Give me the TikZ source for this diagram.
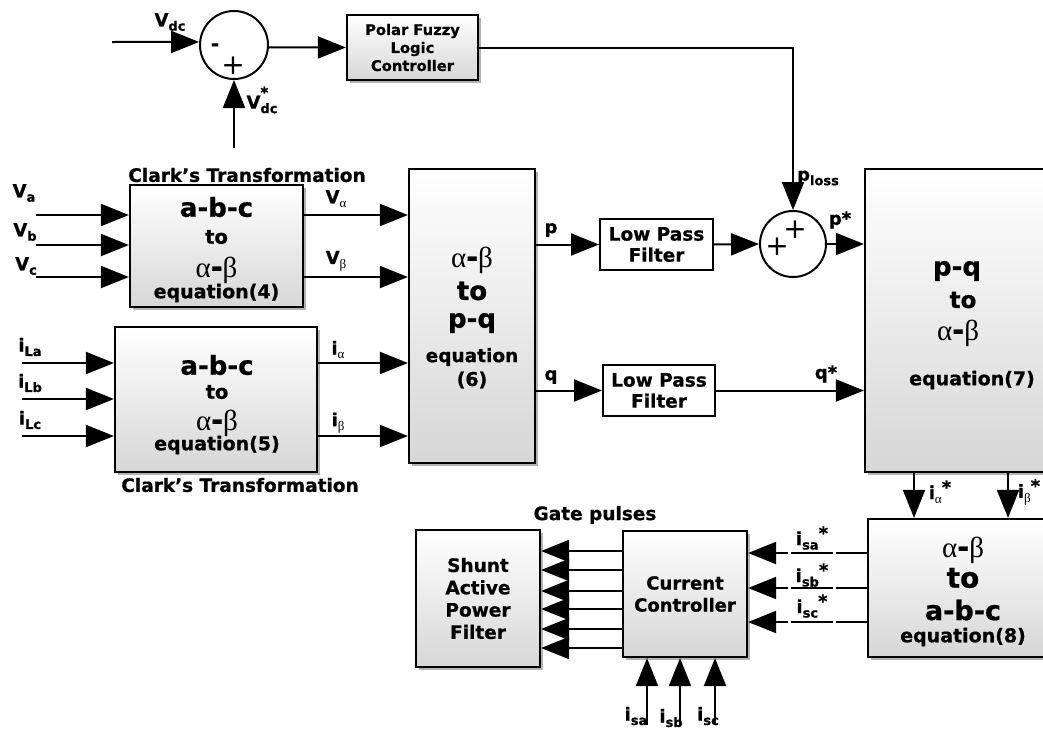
\documentclass[tikz,border=0pt]{standalone}
\usepackage{fontspec}
\setmainfont{DejaVu Sans}[BoldFeatures={FakeBold=0.8}]
\newfontfamily\grk{Liberation Serif}
\usetikzlibrary{arrows.meta,shadows,calc}
\newcommand\fs[1]{\fontsize{#1}{#1}\selectfont}
\newcommand\lsub[1]{\raisebox{-0.45ex}{\fs{13}#1}}
\newcommand\gab{{\grk\mdseries α}-{\grk\mdseries β}}
\newcommand\stx{\raisebox{0.55ex}{*}}
\begin{document}
\begin{tikzpicture}[x=1pt,y=-1pt,
 every node/.style={font=\bfseries, inner sep=0pt},
 arr/.style={line width=2pt,-{Triangle[length=28pt,width=22pt]}},
 gbox/.style={draw, line width=2.2pt, top color=white, bottom color=black!16,
   drop shadow={shadow xshift=2.5pt,shadow yshift=-2.5pt,fill=black!50,opacity=0.6}},
 wbox/.style={draw, line width=2pt, fill=white},
 sumc/.style={draw, circle, line width=2pt, fill=white},
 lab/.style={font=\bfseries\fs{18}},
 big/.style={font=\bfseries\fs{26}},
 mid/.style={font=\bfseries\fs{19}},
 grkt/.style={font=\bfseries\fs{29}},
 sign/.style={font=\normalfont\fs{28}},
]
\useasboundingbox (0,0) rectangle (1043,731);

% ---------- boxes ----------
\node[gbox, minimum width=131pt, minimum height=65pt, align=center,
  font=\bfseries\fontsize{14.7}{18}\selectfont] (pf) at (412.5,47.5) {Polar Fuzzy\\Logic\\Controller};
\node[gbox, minimum width=173pt, minimum height=122pt] (c1) at (216.5,246) {};
\node[gbox, minimum width=202pt, minimum height=145pt] (c2) at (216,399.5) {};
\node[gbox, minimum width=126pt, minimum height=294pt] (b6) at (472,316) {};
\node[gbox, minimum width=190pt, minimum height=303pt] (b7) at (960,320.5) {};
\node[gbox, minimum width=190pt, minimum height=138pt] (b8) at (963,588) {};
\node[gbox, minimum width=124pt, minimum height=137pt, align=center,
  font=\bfseries\fontsize{18.5}{22.3}\selectfont] (sh) at (478,598.5) {Shunt\\Active\\Power\\Filter};
\node[gbox, minimum width=124pt, minimum height=126pt, align=center,
  font=\bfseries\fontsize{18}{22}\selectfont] (cc) at (685,594) {Current\\Controller};
\node[wbox, minimum width=113pt, minimum height=51pt, align=center,
  font=\bfseries\fontsize{18.5}{21}\selectfont] (lpf1) at (656.5,244.5) {Low Pass\\Filter};
\node[wbox, minimum width=112pt, minimum height=51pt, align=center,
  font=\bfseries\fontsize{18.5}{21}\selectfont] (lpf2) at (659,390.5) {Low Pass\\Filter};
\node[sumc, minimum size=68pt] (s1) at (234,45) {};
\node[sumc, minimum size=66pt] (s2) at (793,244) {};

% ---------- box texts ----------
\node[big] (c1a) at (216.5,207) {a-b-c};
\node[font=\bfseries\fs{19.5}] (c1b) at (216.5,237) {to};
\node[grkt] (c1c) at (216.5,270) {\gab};
\node[mid] (c1d) at (216.5,293) {equation(4)};

\node[big] (c2a) at (217,365) {a-b-c};
\node[font=\bfseries\fs{19.5}] (c2b) at (217,392) {to};
\node[grkt] (c2c) at (217,423) {\gab};
\node[mid] (c2d) at (217,445) {equation(5)};

\node[grkt] (b6a) at (472,260) {\gab};
\node[big] (b6b) at (472,291) {to};
\node[big] (b6c) at (472,323) {p-q};
\node[font=\bfseries\fs{18.5}] (b6d) at (472,357) {equation};
\node[mid] (b6e) at (472,380) {(6)};

\node[big] (b7a) at (957,271) {p-q};
\node[font=\bfseries\fs{23}] (b7b) at (963,300) {to};
\node[grkt] (b7c) at (958,333) {\gab};
\node[mid] (b7d) at (972,380) {equation(7)};

\node[grkt] (b8a) at (963,550) {\gab};
\node[font=\bfseries\fs{28}] (b8b) at (963,578) {to};
\node[font=\bfseries\fs{27}] (b8c) at (963,610) {a-b-c};
\node[mid] (b8d) at (963,637) {equation(8)};

\node[font=\bfseries\fs{18.5}] (t1) at (247,175) {Clark's Transformation};
\node[font=\bfseries\fs{18.5}] (t2) at (240,485) {Clark's Transformation};
\node[font=\bfseries\fs{18.5}] (gp) at (595,515) {Gate pulses};

% ---------- summing junction signs ----------
\node[font=\bfseries\fs{20}] (s1m) at (215,47) {-};
\node[sign] (s1p) at (233,66) {+};
\node[sign] (s2p1) at (795,230) {+};
\node[sign] (s2p2) at (777,247) {+};

% ---------- DC loop ----------
\coordinate (vin) at (112,42);
\coordinate (vref) at (234,148);
\draw[arr] (vin) -- (s1.175);
\draw[arr] (vref) -- (s1.south);
\draw[arr] (s1.-4) -- (pf.west);
\draw[arr] (pf.east) -| (s2.north);
\node[lab] (lvdc) at (170,22) {V\lsub{dc}};
\node[lab] (lvdcs) at (262,100) {V\rlap{\raisebox{1.1ex}{\fs{15}*}}\lsub{dc}};
\node[lab] (lploss) at (818,178) {p\lsub{loss}};

% ---------- inputs to Clark boxes ----------
\coordinate (va) at (36,215);
\coordinate (vb) at (36,245);
\coordinate (vc) at (36,277);
\coordinate (ia) at (22,363);
\coordinate (ib) at (22,399);
\coordinate (ic) at (22,436);
\foreach \p in {va,vb,vc} \draw[arr] (\p) -- (c1.west |- \p);
\foreach \p in {ia,ib,ic} \draw[arr] (\p) -- (c2.west |- \p);
\draw[arr] (c1.east |- va) -- (b6.west |- va);
\draw[arr] (c1.east |- vc) -- (b6.west |- vc);
\draw[arr] (c2.east |- ia) -- (b6.west |- ia);
\draw[arr] (c2.east |- ic) -- (b6.west |- ic);

\node[lab] (lva) at (24,193) {V\lsub{a}};
\node[lab] (lvb) at (25,232) {V\lsub{b}};
\node[lab] (lvc) at (26,266) {V\lsub{c}};
\node[lab] (lvalpha) at (336,199) {V\lsub{\grk\mdseries α}};
\node[lab] (lvbeta) at (336,261) {V\lsub{\grk\mdseries β}};
\node[lab] (lila) at (30,347) {i\lsub{La}};
\node[lab] (lilb) at (30,383) {i\lsub{Lb}};
\node[lab] (lilc) at (30,420) {i\lsub{Lc}};
\node[lab] (lialpha) at (338,350) {i\lsub{\grk\mdseries α}};
\node[lab] (libeta) at (338,423) {i\lsub{\grk\mdseries β}};

% ---------- p, q path ----------
\draw[arr] (b6.east |- lpf1.west) -- (lpf1.west);
\draw[arr] (lpf1.east) -- (s2.west);
\draw[arr] (s2.east) -- (b7.west |- s2.east);
\draw[arr] (b6.east |- lpf2.west) -- (lpf2.west);
\draw[arr] (lpf2.east) -- (b7.west |- lpf2.east);
\node[lab] (lp) at (551,230) {p};
\node[lab] (lq) at (551,377) {q};
\node[lab] (lps) at (840,220) {p*};
\node[lab] (lqs) at (826,374) {q*};

% ---------- reference currents ----------
\draw[arr] (b7.south -| 914,0) -- (b8.north -| 914,0);
\draw[arr] (b7.south -| 1008,0) -- (b8.north -| 1008,0);
\node[lab] (liast) at (940,492) {i\lsub{\grk\mdseries α}\stx};
\node[lab] (libst) at (1029,492) {i\lsub{\grk\mdseries β}\stx};

\foreach \y in {553,588,622}
  \draw[arr, dash pattern=on 31pt off 3pt on 42pt off 3pt on 200pt]
    (b8.west |- 0,\y) -- (cc.east |- 0,\y);
\node[lab] (lisas) at (812,538) {i\lsub{sa}\stx};
\node[lab] (lisbs) at (812,575) {i\lsub{sb}\stx};
\node[lab] (liscs) at (812,606) {i\lsub{sc}\stx};

% ---------- gate pulses ----------
\foreach \y in {551,570,591,609,629,648}
  \draw[arr] (cc.west |- 0,\y) -- (sh.east |- 0,\y);

% ---------- measured source currents ----------
\coordinate (isa) at (647,725);
\coordinate (isb) at (680,725);
\coordinate (isc) at (715,725);
\foreach \p in {isa,isb,isc} \draw[arr] (\p) -- (cc.south -| \p);
\node[lab] (lisa) at (636,716) {i\lsub{sa}};
\node[lab] (lisb) at (671,718) {i\lsub{sb}};
\node[lab] (lisc) at (708,716) {i\lsub{sc}};
\end{tikzpicture}
\end{document}
